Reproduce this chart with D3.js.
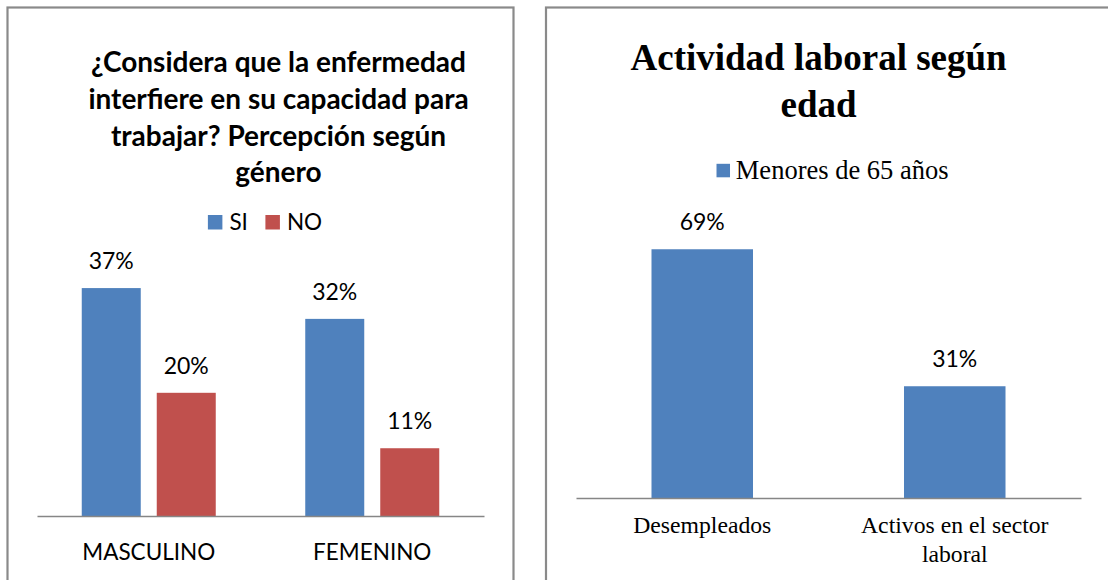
<!DOCTYPE html>
<html><head><meta charset="utf-8">
<script src="https://cdn.jsdelivr.net/npm/d3@7"></script>
<style>body{margin:0;background:#fff;} svg{display:block}</style>
</head><body>
<svg id="c" width="1108" height="580"></svg>
<script>
// ---- Data: chart 1 ----
const genderCategories = ["MASCULINO", "FEMENINO"];
const genderSeries = ["SI", "NO"];
const siValues = [37, 32];
const noValues = [20, 11];
const genderTitle = ["¿Considera que la enfermedad", "interfiere en su capacidad para", "trabajar? Percepción según", "género"];

// ---- Data: chart 2 ----
const ageCategories = ["Desempleados", "Activos en el sector laboral"];
const ageCategoryLines = [["Desempleados"], ["Activos en el sector", "laboral"]];
const ageSeries = ["Menores de 65 años"];
const ageValues = [69, 31];
const ageTitle = ["Actividad laboral según", "edad"];

const BLUE = "#4F81BD", RED = "#C0504D", GRAY = "#868686";
const SANS = "Lato, 'Open Sans', sans-serif";
const SERIF = "'Liberation Serif', 'DejaVu Serif', serif";
const fmt = v => v + "%";

const svg = d3.select("#c");

// panel frames
svg.append("rect").attr("x", 7.5).attr("y", 7.5).attr("width", 506).attr("height", 620)
  .attr("fill", "#fff").attr("stroke", "#8a8a8a").attr("stroke-width", 2.2);
svg.append("rect").attr("x", 546).attr("y", 7.5).attr("width", 620).attr("height", 620)
  .attr("fill", "#fff").attr("stroke", "#8a8a8a").attr("stroke-width", 2.2);

// ================= Chart 1 =================
(function () {
  const g = svg.append("g");
  const base = 516, left = 37, right = 484;
  const x0 = d3.scaleBand().domain(genderCategories).range([left, right]).padding(0);
  const x1 = d3.scaleBand().domain(genderSeries).range([0, x0.bandwidth()])
    .paddingInner(0.2133).paddingOuter(0.5967);
  const y = d3.scaleLinear().domain([0, 40]).range([base, base - 40 * 6.16]);
  const color = d3.scaleOrdinal().domain(genderSeries).range([BLUE, RED]);
  const rows = genderCategories.map((c, i) => ({ cat: c, vals: [{ s: "SI", v: siValues[i] }, { s: "NO", v: noValues[i] }] }));

  // title
  const t = g.append("text").attr("text-anchor", "middle").attr("font-family", SANS)
    .attr("font-weight", "bold").attr("font-size", 28).attr("fill", "#000");
  genderTitle.forEach((line, i) => t.append("tspan").attr("x", 278.5).attr("y", 72.3 + i * 36.7).text(line));

  // legend
  const lg = g.append("g");
  let cx = 0;
  genderSeries.forEach(s => {
    const it = lg.append("g").attr("transform", `translate(${cx},0)`);
    it.append("rect").attr("x", 0).attr("y", -15).attr("width", 14.5).attr("height", 14.5).attr("fill", color(s));
    const tx = it.append("text").attr("x", 21.5).attr("y", 0).attr("font-family", SANS).attr("font-size", 22.5).text(s);
    cx += 21.5 + tx.node().getComputedTextLength() + 17.5;
  });
  const lw = cx - 17.5;
  lg.attr("transform", `translate(${265 - lw / 2},230)`);

  // bars
  const grp = g.selectAll(".grp").data(rows).join("g").attr("transform", d => `translate(${x0(d.cat)},0)`);
  grp.selectAll("rect").data(d => d.vals).join("rect")
    .attr("x", d => x1(d.s)).attr("width", x1.bandwidth())
    .attr("y", d => y(d.v)).attr("height", d => base - y(d.v)).attr("fill", d => color(d.s));
  grp.selectAll("text.lbl").data(d => d.vals).join("text").attr("class", "lbl")
    .attr("x", d => x1(d.s) + x1.bandwidth() / 2).attr("y", d => y(d.v) - 19)
    .attr("text-anchor", "middle").attr("font-family", SANS).attr("font-size", 23).text(d => fmt(d.v));

  // axis
  const ax = g.append("g").attr("transform", `translate(0,${base})`)
    .call(d3.axisBottom(x0).tickSize(0).tickSizeOuter(0));
  ax.select(".domain").attr("stroke", GRAY).attr("stroke-width", 1.6);
  ax.selectAll(".tick text").attr("y", 44).attr("dy", 0).attr("font-family", SANS)
    .attr("font-size", 22.5).attr("fill", "#000");
})();

// ================= Chart 2 =================
(function () {
  const g = svg.append("g");
  const base = 498, left = 576, right = 1081;
  const x = d3.scaleBand().domain(ageCategories).range([left, right]).paddingInner(0.598).paddingOuter(0.299);
  const y = d3.scaleLinear().domain([0, 80]).range([base, base - 80 * 3.605]);

  const t = g.append("text").attr("text-anchor", "middle").attr("font-family", SERIF)
    .attr("font-weight", "bold").attr("font-size", 37).attr("fill", "#000");
  ageTitle.forEach((line, i) => t.append("tspan").attr("x", 818.6).attr("y", 69.6 + i * 47.1).text(line));

  // legend
  const lg = g.append("g");
  lg.append("rect").attr("x", 0).attr("y", -15.2).attr("width", 13.5).attr("height", 13.5).attr("fill", BLUE);
  const tx = lg.append("text").attr("x", 19.3).attr("y", 0).attr("font-family", SERIF).attr("font-size", 26.5).text(ageSeries[0]);
  const lw = 19.3 + tx.node().getComputedTextLength();
  lg.attr("transform", `translate(${832.5 - lw / 2},179)`);

  g.selectAll("rect.bar").data(ageValues).join("rect").attr("class", "bar")
    .attr("x", (d, i) => x(ageCategories[i])).attr("width", x.bandwidth())
    .attr("y", d => y(d)).attr("height", d => base - y(d)).attr("fill", BLUE);
  g.selectAll("text.lbl").data(ageValues).join("text").attr("class", "lbl")
    .attr("x", (d, i) => x(ageCategories[i]) + x.bandwidth() / 2).attr("y", d => y(d) - 19)
    .attr("text-anchor", "middle").attr("font-family", SANS).attr("font-size", 23).text(fmt);

  const ax = g.append("g").attr("transform", `translate(0,${base})`)
    .call(d3.axisBottom(x).tickSize(0).tickSizeOuter(0));
  ax.select(".domain").attr("stroke", GRAY).attr("stroke-width", 1.6);
  ax.selectAll(".tick text").each(function (d, i) {
    const el = d3.select(this).text(null).attr("y", 0).attr("dy", 0)
      .attr("font-family", SERIF).attr("font-size", 23.7).attr("fill", "#000");
    ageCategoryLines[i].forEach((ln, j) => el.append("tspan").attr("x", 0).attr("y", 35 + j * 28.7).text(ln));
  });
})();
</script>
</body></html>
